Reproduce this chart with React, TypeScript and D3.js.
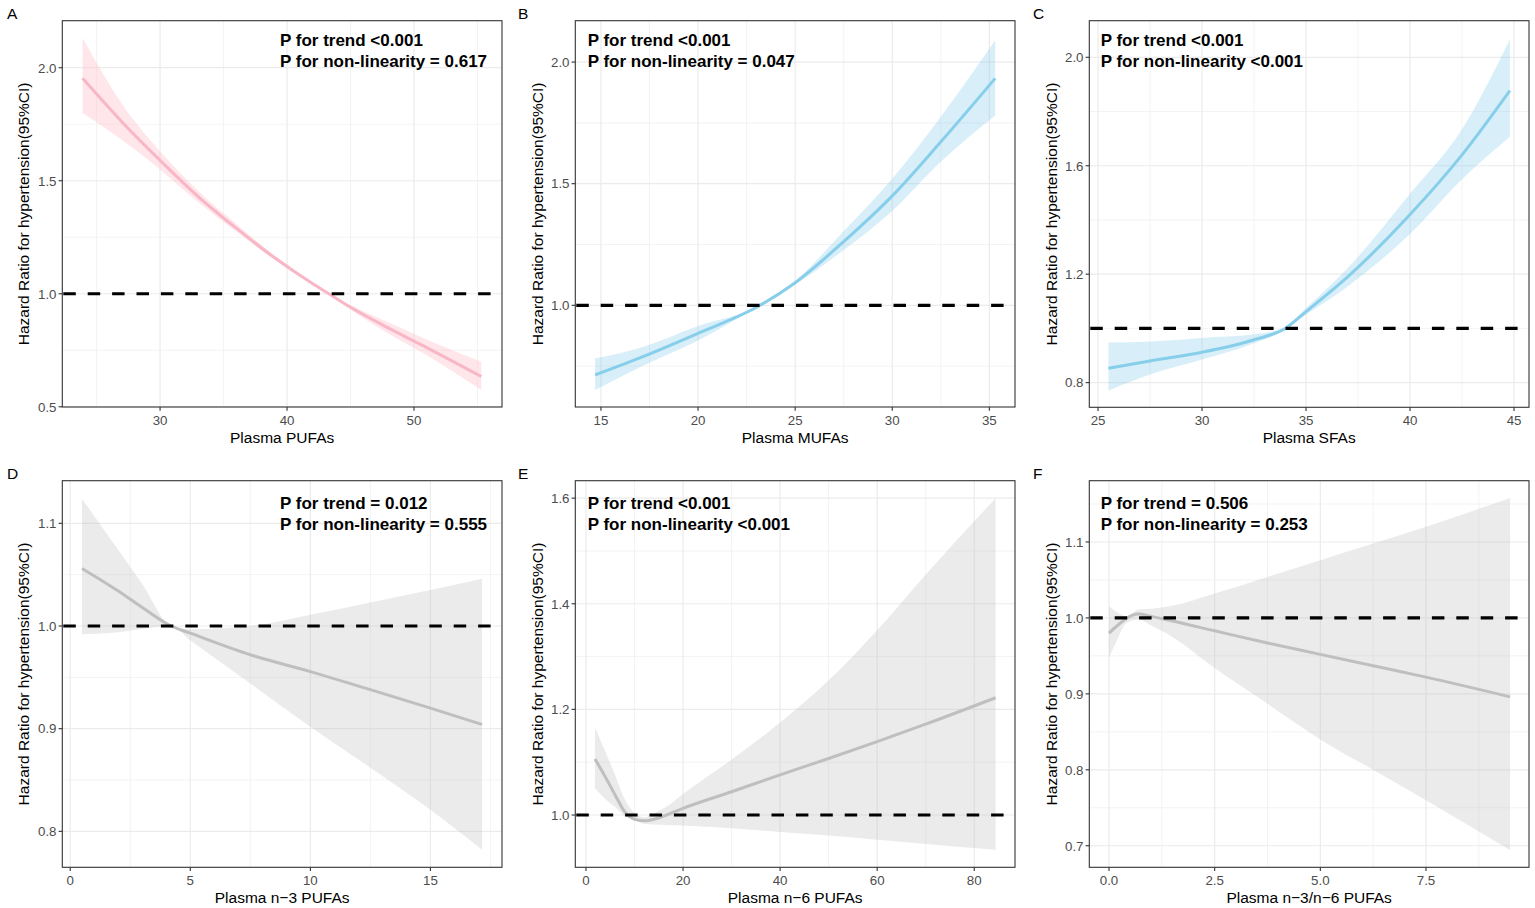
import * as d3 from "d3";

const FONT = "'Liberation Sans', Arial, Helvetica, sans-serif";

// ---- A: Plasma PUFAs ----
const pufaX = [23.9, 27, 30, 33, 36, 39, 42, 43.3, 45, 48, 51, 55.3];
const pufaHR = [1.953, 1.76, 1.59, 1.43, 1.29, 1.16, 1.045, 1.0, 0.94, 0.848, 0.762, 0.634];
const pufaLo = [1.8, 1.68, 1.55, 1.405, 1.275, 1.15, 1.04, 1.0, 0.93, 0.823, 0.728, 0.574];
const pufaHi = [2.13, 1.84, 1.63, 1.455, 1.31, 1.17, 1.05, 1.0, 0.95, 0.873, 0.798, 0.699];

// ---- B: Plasma MUFAs ----
const mufaX = [14.7, 17, 20, 23.2, 25, 27.5, 30, 32.5, 35.3];
const mufaHR = [0.714, 0.784, 0.885, 1.0, 1.093, 1.262, 1.45, 1.672, 1.933];
const mufaLo = [0.652, 0.745, 0.855, 1.0, 1.085, 1.227, 1.388, 1.59, 1.78];
const mufaHi = [0.782, 0.825, 0.915, 1.0, 1.1, 1.305, 1.52, 1.775, 2.09];

// ---- C: Plasma SFAs ----
const sfaX = [25.5, 27.5, 30, 32.5, 34, 35, 37, 40, 42.5, 44.8];
const sfaHR = [0.853, 0.88, 0.912, 0.958, 1.0, 1.062, 1.19, 1.42, 1.64, 1.877];
const sfaLo = [0.771, 0.83, 0.885, 0.945, 0.995, 1.05, 1.155, 1.348, 1.55, 1.707];
const sfaHi = [0.948, 0.952, 0.965, 0.978, 1.005, 1.075, 1.222, 1.497, 1.735, 2.066];

// ---- D: Plasma n-3 PUFAs ----
const n3X = [0.49, 2, 3, 4.2, 5, 7.5, 10, 12.5, 15, 17.15];
const n3HR = [1.056, 1.034, 1.018, 1.0, 0.993, 0.972, 0.9556, 0.938, 0.92, 0.904];
const n3Lo = [0.992, 0.994, 0.997, 1.0, 0.986, 0.944, 0.902, 0.862, 0.821, 0.782];
const n3Hi = [1.124, 1.074, 1.041, 1.0, 0.997, 1.0, 1.011, 1.023, 1.035, 1.046];

// ---- E: Plasma n-6 PUFAs ----
const n6X = [1.85, 4, 6, 8, 10, 12.2, 14, 16.3, 20, 30, 40, 50, 60, 70, 84.4];
const n6HR = [1.106, 1.072, 1.038, 1.006, 0.992, 0.989, 0.992, 0.999, 1.0126, 1.044, 1.076, 1.107, 1.139, 1.172, 1.222];
const n6Lo = [1.0505, 1.03, 1.015, 0.998, 0.99, 0.983, 0.982, 0.981, 0.98, 0.975, 0.968, 0.961, 0.953, 0.945, 0.934];
const n6Hi = [1.1655, 1.12, 1.076, 1.03, 1.004, 0.996, 1.003, 1.014, 1.04, 1.105, 1.175, 1.255, 1.35, 1.455, 1.6];

// ---- F: Plasma n-3/n-6 PUFAs ----
const ratioX = [0, 0.2, 0.4, 0.7, 1.0, 1.5, 2.5, 3.75, 5.0, 6.25, 7.5, 9.49];
const ratioHR = [0.98, 0.99, 0.999, 1.005, 1.002, 0.996, 0.983, 0.967, 0.952, 0.937, 0.922, 0.896];
const ratioLo = [0.948, 0.972, 0.993, 0.998, 0.99, 0.975, 0.934, 0.887, 0.84, 0.8, 0.76, 0.694];
const ratioHi = [1.0154, 1.007, 1.002, 1.011, 1.012, 1.016, 1.032, 1.054, 1.076, 1.098, 1.12, 1.158];

// ticks
const xTicksA = [30, 40, 50];
const yTicksA = [0.5, 1.0, 1.5, 2.0];
const xTicksB = [15, 20, 25, 30, 35];
const yTicksB = [1.0, 1.5, 2.0];
const xTicksC = [25, 30, 35, 40, 45];
const yTicksC = [0.8, 1.2, 1.6, 2.0];
const xTicksD = [0, 5, 10, 15];
const yTicksD = [0.8, 0.9, 1.0, 1.1];
const xTicksE = [0, 20, 40, 60, 80];
const yTicksE = [1.0, 1.2, 1.4, 1.6];
const xTicksF = [0, 2.5, 5, 7.5];
const yTicksF = [0.7, 0.8, 0.9, 1.0, 1.1];

const pTrend = ["<0.001", "<0.001", "<0.001", "= 0.012", "<0.001", "= 0.506"];
const pNonLin = ["= 0.617", "= 0.047", "<0.001", "= 0.555", "<0.001", "= 0.253"];
const xTitles = ["Plasma PUFAs", "Plasma MUFAs", "Plasma SFAs", "Plasma n\u22123 PUFAs", "Plasma n\u22126 PUFAs", "Plasma n\u22123/n\u22126 PUFAs"];
const panelTags = ["A", "B", "C", "D", "E", "F"];

const PINK = { line: "#f8b6c6", fill: "#ffc0cb", alpha: 0.4 };
const BLUE = { line: "#87ceeb", fill: "#87ceeb", alpha: 0.32 };
const GREY = { line: "#bfbfbf", fill: "#bebebe", alpha: 0.3 };

const panels = [
  { x: pufaX, hr: pufaHR, lo: pufaLo, hi: pufaHi, xDom: [22.3, 56.93], yDom: [0.499, 2.208], xt: xTicksA, yt: yTicksA, fmt: d3.format(".0f"), yfmt: d3.format(".1f"), col: PINK },
  { x: mufaX, hr: mufaHR, lo: mufaLo, hi: mufaHi, xDom: [13.68, 36.32], yDom: [0.582, 2.17], xt: xTicksB, yt: yTicksB, fmt: d3.format(".0f"), yfmt: d3.format(".1f"), col: BLUE },
  { x: sfaX, hr: sfaHR, lo: sfaLo, hi: sfaHi, xDom: [24.58, 45.72], yDom: [0.709, 2.135], xt: xTicksC, yt: yTicksC, fmt: d3.format(".0f"), yfmt: d3.format(".1f"), col: BLUE },
  { x: n3X, hr: n3HR, lo: n3Lo, hi: n3Hi, xDom: [-0.33, 17.98], yDom: [0.765, 1.1415], xt: xTicksD, yt: yTicksD, fmt: d3.format(".0f"), yfmt: d3.format(".1f"), col: GREY },
  { x: n6X, hr: n6HR, lo: n6Lo, hi: n6Hi, xDom: [-2.2, 88.4], yDom: [0.901, 1.633], xt: xTicksE, yt: yTicksE, fmt: d3.format(".0f"), yfmt: d3.format(".1f"), col: GREY },
  { x: ratioX, hr: ratioHR, lo: ratioLo, hi: ratioHi, xDom: [-0.466, 9.937], yDom: [0.6716, 1.1807], xt: xTicksF, yt: yTicksF, fmt: d3.format(".1f"), yfmt: d3.format(".1f"), col: GREY },
];

// pixel boxes of each panel
const boxes = [
  { left: 62.3, right: 502, top: 20.7, bottom: 407, tagX: 7, tagY: 19, ylabX: 29, annX: 280, annY: 46 },
  { left: 575.3, right: 1015, top: 20.7, bottom: 407, tagX: 518, tagY: 19, ylabX: 543, annX: 587.7, annY: 46 },
  { left: 1089.3, right: 1529, top: 20.7, bottom: 407.3, tagX: 1033, tagY: 19, ylabX: 1057, annX: 1100.7, annY: 46 },
  { left: 62.3, right: 502, top: 480.7, bottom: 867.3, tagX: 7, tagY: 479, ylabX: 29, annX: 280, annY: 509.3 },
  { left: 575.3, right: 1015, top: 480.7, bottom: 867.3, tagX: 518, tagY: 479, ylabX: 543, annX: 587.7, annY: 509.3 },
  { left: 1089.3, right: 1529, top: 480.7, bottom: 867.3, tagX: 1033, tagY: 479, ylabX: 1057, annX: 1100.7, annY: 509.3 },
];

function minorBreaks(major: number[], dom: number[]) {
  const step = major[1] - major[0];
  const out: number[] = [];
  for (let v = major[0] - step / 2; v <= dom[1] + 1e-9; v += step) {
    if (v >= dom[0]) out.push(v);
  }
  return out;
}

function Panel({ i }: { i: number }) {
  const p = panels[i];
  const b = boxes[i];
  const x = d3.scaleLinear().domain(p.xDom).range([b.left, b.right]);
  const y = d3.scaleLinear().domain(p.yDom).range([b.bottom, b.top]);
  const rows = p.x.map((v, k) => ({ x: v, hr: p.hr[k], lo: p.lo[k], hi: p.hi[k] }));

  const area = d3
    .area<(typeof rows)[number]>()
    .x((d) => x(d.x))
    .y0((d) => y(d.lo))
    .y1((d) => y(d.hi))
    .curve(d3.curveMonotoneX);
  const line = d3
    .line<(typeof rows)[number]>()
    .x((d) => x(d.x))
    .y((d) => y(d.hr))
    .curve(d3.curveMonotoneX);

  const xMinor = minorBreaks(p.xt, p.xDom);
  const yMinor = minorBreaks(p.yt, p.yDom);
  const clipId = `clip-${i}`;
  const midY = (b.top + b.bottom) / 2;
  const midX = (b.left + b.right) / 2;

  return (
    <g>
      <defs>
        <clipPath id={clipId}>
          <rect x={b.left} y={b.top} width={b.right - b.left} height={b.bottom - b.top} />
        </clipPath>
      </defs>
      <text x={b.tagX} y={b.tagY} fontSize={15.5} fontFamily={FONT} fill="#000">
        {panelTags[i]}
      </text>

      {/* grid */}
      <g stroke="#ebebeb">
        {xMinor.map((v) => (
          <line key={"xm" + v} x1={x(v)} x2={x(v)} y1={b.top} y2={b.bottom} strokeWidth={0.6} />
        ))}
        {yMinor.map((v) => (
          <line key={"ym" + v} y1={y(v)} y2={y(v)} x1={b.left} x2={b.right} strokeWidth={0.6} />
        ))}
        {p.xt.map((v) => (
          <line key={"x" + v} x1={x(v)} x2={x(v)} y1={b.top} y2={b.bottom} strokeWidth={1.2} />
        ))}
        {p.yt.map((v) => (
          <line key={"y" + v} y1={y(v)} y2={y(v)} x1={b.left} x2={b.right} strokeWidth={1.2} />
        ))}
      </g>

      <g clipPath={`url(#${clipId})`}>
        <path d={area(rows) ?? ""} fill={p.col.fill} fillOpacity={p.col.alpha} stroke="none" />
        <path d={line(rows) ?? ""} fill="none" stroke={p.col.line} strokeWidth={3} strokeLinecap="butt" />
        <line
          x1={b.left}
          x2={b.right}
          y1={y(1)}
          y2={y(1)}
          stroke="#000"
          strokeWidth={3.2}
          strokeDasharray="12.5 11.9"
          strokeDashoffset={-1}
        />
      </g>

      <rect
        x={b.left}
        y={b.top}
        width={b.right - b.left}
        height={b.bottom - b.top}
        fill="none"
        stroke="#333333"
        strokeWidth={1.1}
      />

      {/* y axis */}
      {p.yt.map((v) => (
        <g key={"yt" + v}>
          <line x1={b.left - 3.7} x2={b.left} y1={y(v)} y2={y(v)} stroke="#333333" strokeWidth={1.1} />
          <text
            x={b.left - 5.8}
            y={y(v)}
            dy="0.36em"
            textAnchor="end"
            fontSize={13.3}
            fontFamily={FONT}
            fill="#4d4d4d"
          >
            {p.yfmt(v)}
          </text>
        </g>
      ))}
      {/* x axis */}
      {p.xt.map((v) => (
        <g key={"xt" + v}>
          <line x1={x(v)} x2={x(v)} y1={b.bottom} y2={b.bottom + 3.7} stroke="#333333" strokeWidth={1.1} />
          <text x={x(v)} y={b.bottom + 18} textAnchor="middle" fontSize={13.3} fontFamily={FONT} fill="#4d4d4d">
            {p.fmt(v)}
          </text>
        </g>
      ))}

      <text x={midX} y={b.bottom + 36} textAnchor="middle" fontSize={15.5} fontFamily={FONT} fill="#000">
        {xTitles[i]}
      </text>
      <text
        transform={`translate(${b.ylabX},${midY}) rotate(-90)`}
        textAnchor="middle"
        fontSize={15.5}
        fontFamily={FONT}
        fill="#000"
      >
        Hazard Ratio for hypertension(95%CI)
      </text>

      <g fontFamily={FONT} fontWeight="bold" fontSize={17} fill="#000">
        <text x={b.annX} y={b.annY}>{`P for trend ${pTrend[i]}`}</text>
        <text x={b.annX} y={b.annY + 20.8}>{`P for non-linearity ${pNonLin[i]}`}</text>
      </g>
    </g>
  );
}

export default function App() {
  return (
    <svg
      width={1535}
      height={908}
      style={{ position: "absolute", left: 0, top: 0, background: "#fff" }}
    >
      <rect width={1535} height={908} fill="#fff" />
      {panels.map((_, i) => (
        <Panel key={i} i={i} />
      ))}
    </svg>
  );
}
